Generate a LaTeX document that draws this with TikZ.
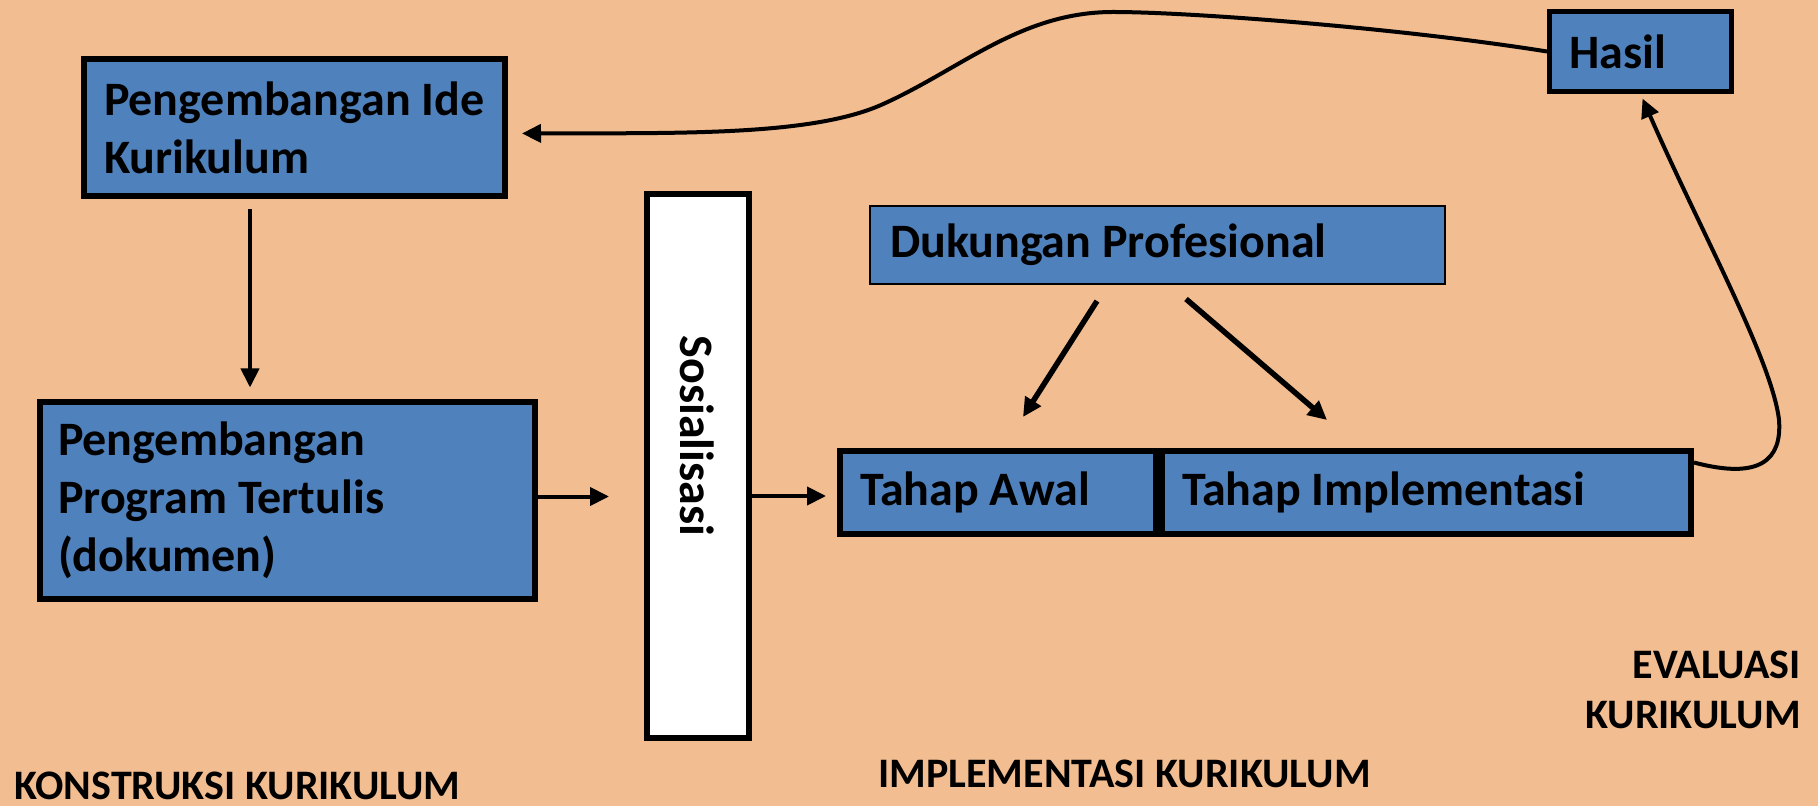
\documentclass[tikz,border=0pt]{standalone}
\usepackage{fontspec}
\setmainfont{Carlito}
\usetikzlibrary{arrows.meta,calc,positioning}
\definecolor{peach}{HTML}{F2BD91}
\definecolor{boxblue}{HTML}{4F81BD}
\tikzstyle{bluebox} = [draw=black, fill=boxblue, line width=3pt,
    rectangle, inner xsep=10pt, inner ysep=0pt, align=flush left,
    font=\fontsize{24}{29}\selectfont\bfseries]
\tikzstyle{stagelabel} = [inner sep=0pt, font=\fontsize{21}{25}\selectfont\bfseries]
\tikzstyle{arr} = [line width=2pt, -{Triangle[length=9.5pt,width=9pt]}]

\begin{document}
\begin{tikzpicture}[x=0.5pt,y=-0.5pt]

\fill[peach] (0,0) rectangle (1818,806);
\useasboundingbox (0,0) rectangle (1818,806);

\node [bluebox, text width=190.5pt, minimum height=68.5pt] (idea) at (294.5,127.5)
    {Pengembangan Ide\\Kurikulum};

\node [bluebox, text width=229.5pt, minimum height=98pt, inner xsep=9pt] (prog) at (287.5,500.5)
    {Pengembangan\\Program Tertulis\\(dokumen)};

\node [draw=black, fill=white, line width=3pt, minimum width=51pt, minimum height=272pt,
    inner sep=0pt] (sos) at (698,466) {};
\node [rotate=-90, font=\fontsize{24}{29}\selectfont\bfseries] (sostext) at (697,436) {Sosialisasi};

\node [bluebox, line width=1pt, text width=267.5pt, minimum height=39pt] (duk) at (1157.5,245)
    {Dukungan Profesional};

\node [bluebox, text width=138pt, minimum height=41.5pt] (awal) at (998,492.5) {Tahap Awal};
\node [bluebox, text width=244.5pt, minimum height=41.5pt, anchor=west] (impl) at (awal.east)
    {Tahap Implementasi};

\node [bluebox, line width=2.5pt, text width=71pt, minimum height=40pt] (hasil) at (1640.5,51.5)
    {Hasil};

% stage labels
\node [stagelabel, anchor=base west] (konstruksi) at (14,799) {KONSTRUKSI KURIKULUM};
\node [stagelabel, anchor=base west] (implementasi) at (878,787) {IMPLEMENTASI KURIKULUM};
\node [stagelabel, anchor=base east, align=right] (evaluasi) at (1801,728) {EVALUASI\\KURIKULUM};

% arrows
\draw [arr, shorten <=5pt, shorten >=6pt] ([xshift=-22.25pt]idea.south)
    -- ([xshift=-22.25pt]idea.south |- prog.north);
\draw [arr, shorten >=17.5pt] ([yshift=2pt]prog.east) -- ([yshift=2pt]prog.east -| sos.west);
\draw [arr, shorten >=5.5pt] ([yshift=-1.75pt]sos.east |- awal.west) -- ([yshift=-1.75pt]awal.west);
\draw [arr, line width=2.75pt] ([xshift=-30.25pt,yshift=-8pt]duk.south) -- ([xshift=12.5pt,yshift=15.5pt]awal.north);
\draw [arr, line width=2.75pt] ([xshift=14.25pt,yshift=-7pt]duk.south) -- ([xshift=-49.75pt,yshift=14pt]impl.north);

% feedback loop
\draw [arr, shorten >=2.5pt] ([yshift=15pt]impl.east)
    .. controls (1760,480) and (1782,460) .. (1779,420)
    .. controls (1772,360) and (1700,230) .. (hasil.south);
\draw [arr, shorten >=7pt] (hasil.west)
    .. controls (1400,28) and (1190,12) .. (1113,12)
    .. controls (1020,12) and (960,70) .. (881,105)
    .. controls (810,136) and (680,133) .. ([yshift=-3pt]idea.east);

\end{tikzpicture}
\end{document}
